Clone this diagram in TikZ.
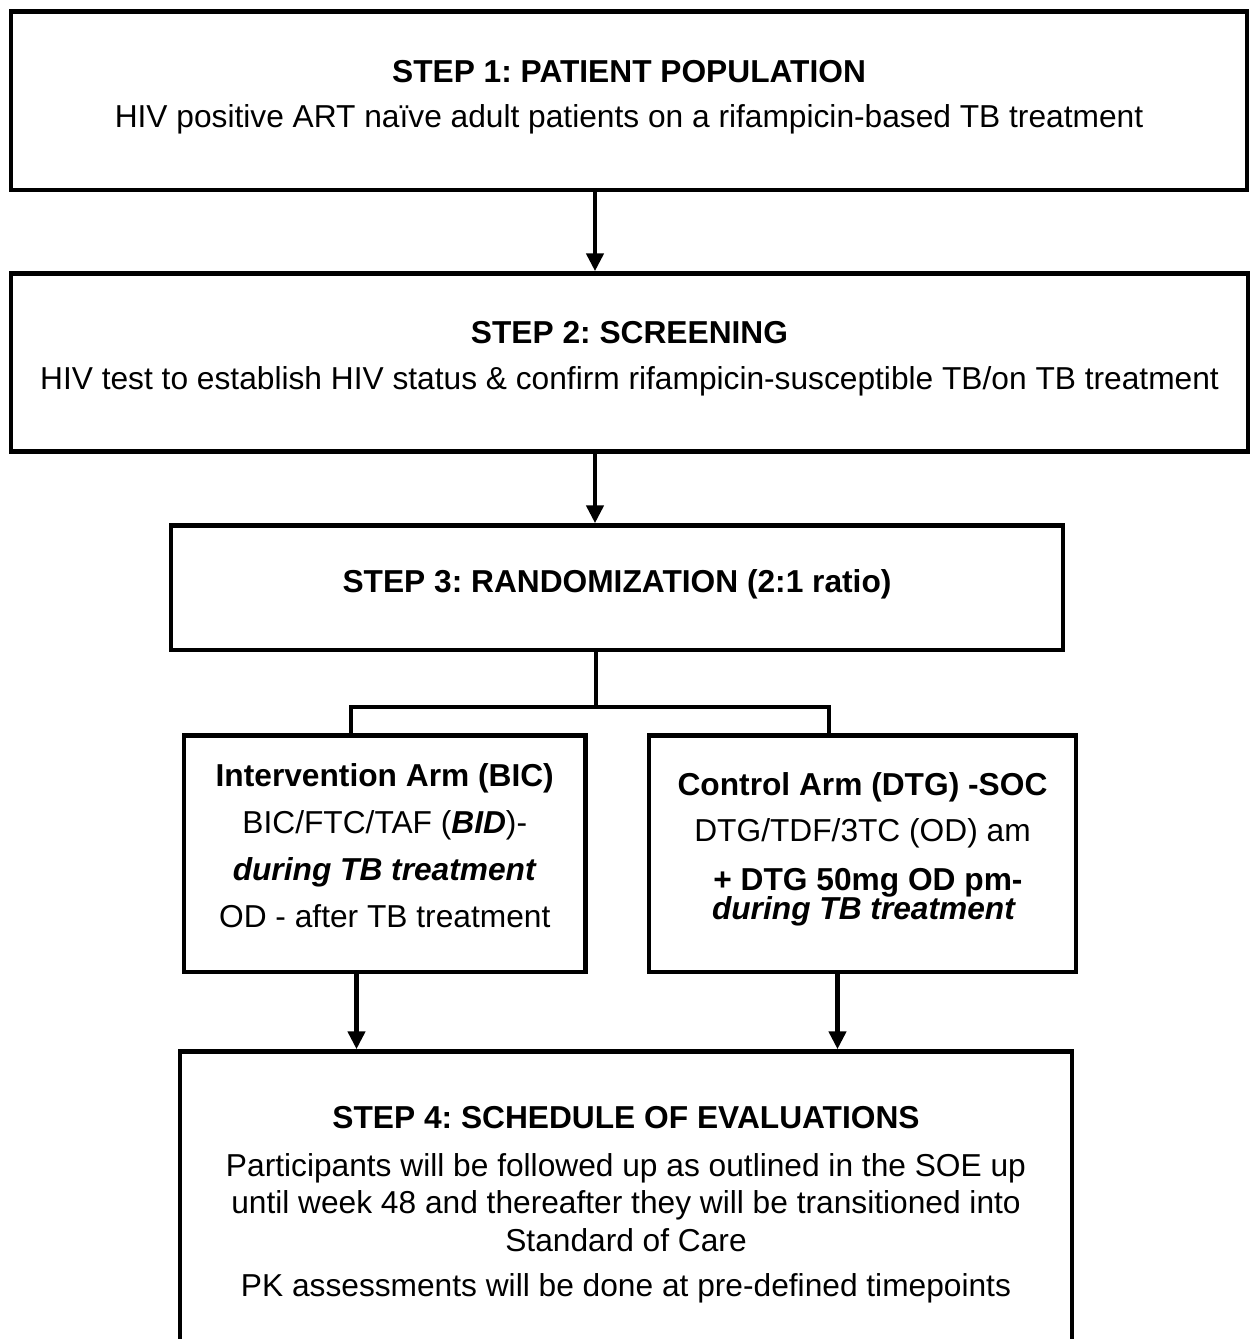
\documentclass[tikz,border=0pt]{standalone}
\usepackage{fontspec}
\setmainfont{Liberation Sans}
\usetikzlibrary{arrows.meta}
\frenchspacing
\newcommand\diafs{\fontsize{31.7}{38}\selectfont}
\begin{document}
\begin{tikzpicture}[x=1pt,y=-1pt,
  box/.style={draw=black,line width=4.5pt,rectangle,inner sep=0pt,line join=miter},
  txt/.style={inner sep=0pt,anchor=base,font=\diafs,text=black},
  ln/.style={draw=black,line width=4.5pt,line join=miter},
  arr/.style={ln,-{Triangle[length=18pt,width=17pt]}}]
\fill[white] (0,0) rectangle (1250,1339);
\useasboundingbox (0,0) rectangle (1250,1339);
% boxes
\node[box,minimum width=1236pt,minimum height=178.5pt] (b1) at (629,100.75) {};
\node[box,minimum width=1237pt,minimum height=178pt] (b2) at (629.5,362.5) {};
\node[box,minimum width=892pt,minimum height=124.5pt] (b3) at (617,587.75) {};
\node[box,minimum width=401.5pt,minimum height=236.5pt] (b4a) at (384.75,853.75) {};
\node[box,minimum width=427pt,minimum height=236.5pt] (b4b) at (862.5,853.75) {};
\node[box,minimum width=892pt,minimum height=298.5pt] (b5) at (626,1200.75) {};
% texts
\node[txt] (t1a) at (629,82) {\textbf{STEP 1: PATIENT POPULATION}};
\node[txt] (t1b) at (629,127) {HIV positive ART naïve adult patients on a rifampicin-based TB treatment};
\node[txt] (t2a) at (629.5,343) {\textbf{STEP 2: SCREENING}};
\node[txt] (t2b) at (629.5,389) {HIV test to establish HIV status \& confirm rifampicin-susceptible TB/on TB treatment};
\node[txt] (t3) at (617,592) {\textbf{STEP 3: RANDOMIZATION (2:1 ratio)}};
\node[txt] (t4a1) at (384.75,786) {\textbf{Intervention Arm (BIC)}};
\node[txt] (t4a2) at (384.75,833) {BIC/FTC/TAF (\textbf{\textit{BID}})-};
\node[txt] (t4a3) at (384.75,880) {\textbf{\textit{during TB treatment}}};
\node[txt] (t4a4) at (384.75,927) {OD - after TB treatment};
\node[txt] (t4b1) at (862.5,795) {\textbf{Control Arm (DTG) -SOC}};
\node[txt] (t4b2) at (862.5,841) {DTG/TDF/3TC (OD) am};
\node[txt] (t4b3) at (868,890) {\textbf{+ DTG 50mg OD pm-}};
\node[txt] (t4b4) at (864,919) {\textbf{\textit{during TB treatment}}};
\node[txt] (t5a) at (626,1128) {\textbf{STEP 4: SCHEDULE OF EVALUATIONS}};
\node[txt] (t5b) at (626,1176) {Participants will be followed up as outlined in the SOE up};
\node[txt] (t5c) at (626,1213) {until week 48 and thereafter they will be transitioned into};
\node[txt] (t5d) at (626,1251) {Standard of Care};
\node[txt] (t5e) at (626,1296) {PK assessments will be done at pre-defined timepoints};
% connectors
\coordinate (c1) at (595,0);
\coordinate (jc) at (596,707);
\coordinate (jl) at (351,707);
\coordinate (jr) at (829,707);
\coordinate (al) at (356.5,0);
\coordinate (ar) at (837.5,0);
\draw[arr] (b1.south -| c1) -- (b2.north -| c1);
\draw[arr] (b2.south -| c1) -- (b3.north -| c1);
\draw[ln] (b3.south -| jc) -- (jc);
\draw[ln] (b4a.north -| jl) -- (jl) -- (jr) -- (b4b.north -| jr);
\draw[arr] (b4a.south -| al) -- (b5.north -| al);
\draw[arr] (b4b.south -| ar) -- (b5.north -| ar);
\end{tikzpicture}
\end{document}
